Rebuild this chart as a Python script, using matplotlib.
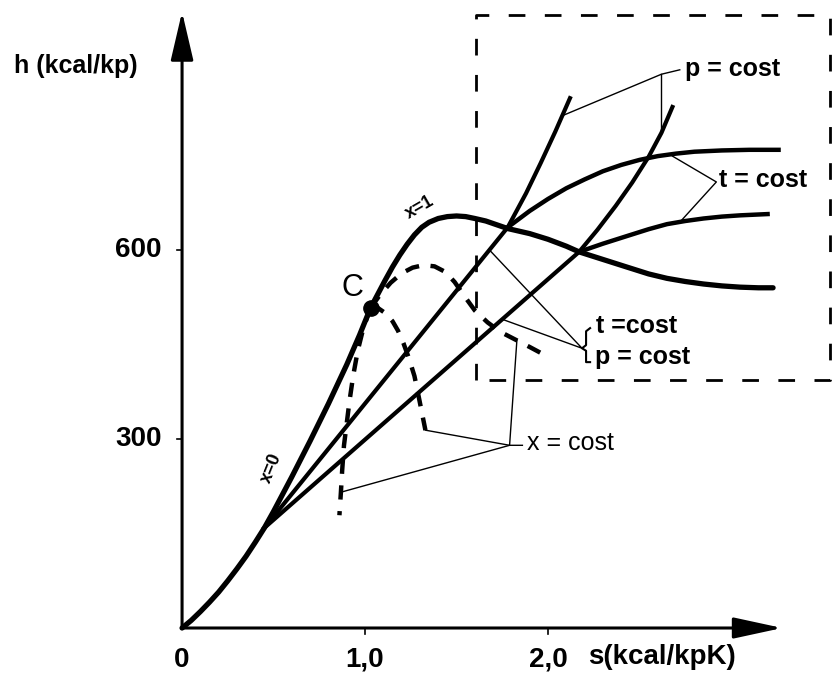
import matplotlib
matplotlib.use("Agg")
import matplotlib.pyplot as plt

# curva limite (x=0 fino a C, poi x=1)
sat_s = [0, 0.05, 0.10, 0.15, 0.20, 0.25, 0.30, 0.35, 0.40, 0.45,
         0.50, 0.60, 0.70, 0.80, 0.90, 0.97, 1.03,
         1.07, 1.11, 1.15, 1.19, 1.23, 1.27, 1.31, 1.35, 1.40, 1.45, 1.50,
         1.55, 1.60, 1.66, 1.72, 1.78, 1.90, 2.00, 2.10, 2.17, 2.30, 2.43,
         2.55, 2.65, 2.75, 2.85, 2.95, 3.05, 3.15, 3.23]
sat_h = [0, 12, 26, 41, 57, 75, 94, 114, 136, 159,
         185, 240, 297, 356, 418, 465, 508,
         530, 552, 573, 592, 609, 624, 636, 644, 650, 653, 654,
         653, 650, 646, 640, 634, 626, 617, 606, 597, 585, 573,
         562, 555, 550, 546, 543, 541, 540, 540]

# isobare
p1_s = [0.45, 1.78, 1.88, 1.96, 2.04, 2.12]
p1_h = [159, 636, 690, 738, 788, 841]
p2_s = [0.45, 2.17, 2.27, 2.37, 2.46, 2.55, 2.62, 2.68]
p2_h = [159, 597, 632, 670, 707, 748, 786, 827]

# isoterme nel vapore surriscaldato
t1_s = [1.78, 1.90, 2.00, 2.10, 2.20, 2.30, 2.40, 2.50, 2.60, 2.70, 2.80,
        2.95, 3.10, 3.26]
t1_h = [636, 662, 681, 698, 712, 725, 735, 743, 749, 753, 756, 758, 759, 759]
t2_s = [2.17, 2.30, 2.43, 2.55, 2.65, 2.75, 2.85, 2.95, 3.05, 3.20]
t2_h = [597, 610, 622, 633, 641, 646, 650, 653, 655, 657]

# curve a titolo costante
q1_s = [1.03, 0.99, 0.96, 0.935, 0.915, 0.90, 0.885, 0.875, 0.868, 0.86]
q1_h = [508, 475, 440, 400, 360, 325, 290, 250, 215, 179]
q2_s = [1.03, 1.07, 1.11, 1.15, 1.18, 1.21, 1.24, 1.27, 1.29, 1.31, 1.33]
q2_h = [508, 508, 500, 487, 472, 452, 428, 400, 372, 343, 314]
q3_s = [1.03, 1.08, 1.14, 1.20, 1.26, 1.32, 1.38, 1.44, 1.49, 1.54, 1.60,
        1.67, 1.74, 1.82, 1.90, 1.99]
q3_h = [508, 528, 548, 563, 572, 576, 574, 565, 549, 528, 504, 485, 470,
        458, 446, 432]

punto_C = (1.03, 508)

y_ticks = [300, 600]
y_tick_labels = ["300", "600"]
x_ticks = [1.0, 2.0]
x_tick_labels = ["1,0", "2,0"]

fig = plt.figure(figsize=(8.34, 6.75), dpi=100)
ax = fig.add_axes([0, 0, 1, 1])
ax.set_xlim(-0.995, 3.563)
ax.set_ylim(-74.6, 996.8)
ax.axis("off")

font = "Liberation Sans"

# assi con frecce
ax.annotate("", xy=(0, 978), xytext=(0, 0),
            arrowprops=dict(arrowstyle="-|>,head_length=3.0,head_width=0.7",
                            mutation_scale=10, lw=2.2, color="k",
                            shrinkA=0, shrinkB=0))
ax.annotate("", xy=(3.28, 0), xytext=(0, 0),
            arrowprops=dict(arrowstyle="-|>,head_length=3.0,head_width=0.65",
                            mutation_scale=10, lw=2.2, color="k",
                            shrinkA=0, shrinkB=0))
for yt, lab in zip(y_ticks, y_tick_labels):
    ax.plot([-0.03, 0], [yt, yt], color="k", lw=1.2)
    ax.text(-0.11, yt, lab, ha="right", va="center", fontsize=20,
            fontweight="bold", family=font)
for xt, lab in zip(x_ticks, x_tick_labels):
    ax.plot([xt, xt], [0, -9], color="k", lw=1.2)
    ax.text(xt, -50, lab, ha="center", va="center", fontsize=20,
            fontweight="bold", family=font)
ax.text(0, -50, "0", ha="center", va="center", fontsize=20,
        fontweight="bold", family=font)
ax.text(2.22, -46, "s(kcal/kpK)", ha="left", va="center", fontsize=20,
        fontweight="bold", family=font)
ax.text(-0.92, 892, "h (kcal/kp)", ha="left", va="center", fontsize=18,
        fontweight="bold", family=font)

# curve principali
ax.plot(sat_s, sat_h, color="k", lw=3.8, solid_capstyle="round",
        solid_joinstyle="round")
ax.plot(p1_s, p1_h, color="k", lw=3.0, solid_joinstyle="round")
ax.plot(p2_s, p2_h, color="k", lw=3.0, solid_joinstyle="round")
ax.plot(t1_s, t1_h, color="k", lw=3.2, solid_joinstyle="round")
ax.plot(t2_s, t2_h, color="k", lw=3.2, solid_joinstyle="round")
for qs, qh in [(q1_s, q1_h), (q2_s, q2_h), (q3_s, q3_h)]:
    ax.plot(qs, qh, color="k", lw=3.2, dashes=(3.2, 2.6))
ax.plot(*punto_C, "o", color="k", markersize=11)
ax.text(0.93, 540, "C", ha="center", va="center", fontsize=22, family=font)
ax.text(0.49, 254, "x=0", ha="center", va="center", fontsize=13,
        fontweight="bold", family=font, rotation=68)
ax.text(1.30, 668, "x=1", ha="center", va="center", fontsize=13,
        fontweight="bold", family=font, rotation=30)

# riquadro tratteggiato
bx = [1.607, 1.607, 3.54, 3.54, 1.607]
by = [394, 973, 973, 394, 394]
ax.plot(bx, by, color="k", lw=2.0, dashes=(6, 7))

# linee di richiamo
lw_r = 1.0
ax.plot([2.72, 2.62, 2.077], [886, 879, 813], color="k", lw=lw_r)
ax.plot([2.62, 2.62], [879, 786], color="k", lw=lw_r)
ax.text(2.75, 888, "p = cost", ha="left", va="center", fontsize=18,
        fontweight="bold", family=font)

ax.plot([2.68, 2.92, 2.72], [749, 708, 644], color="k", lw=lw_r)
ax.text(2.935, 711, "t = cost", ha="left", va="center", fontsize=18,
        fontweight="bold", family=font)

ax.plot([1.68, 2.186, 1.75], [600, 444, 490], color="k", lw=lw_r)
ax.plot([2.23, 2.208, 2.208, 2.186, 2.208, 2.208, 2.23],
        [476, 471, 449, 444, 440, 422, 422], color="k", lw=1.5)
ax.text(2.265, 479, "t =cost", ha="left", va="center", fontsize=18,
        fontweight="bold", family=font)
ax.text(2.255, 430, "p = cost", ha="left", va="center", fontsize=18,
        fontweight="bold", family=font)

ax.plot([1.33, 1.79, 1.83], [314, 290, 457], color="k", lw=lw_r)
ax.plot([0.874, 1.79, 1.86], [216, 290, 290], color="k", lw=lw_r)
ax.text(1.885, 294, "x = cost", ha="left", va="center", fontsize=18,
        family=font)

fig.savefig("out.png", dpi=100)
